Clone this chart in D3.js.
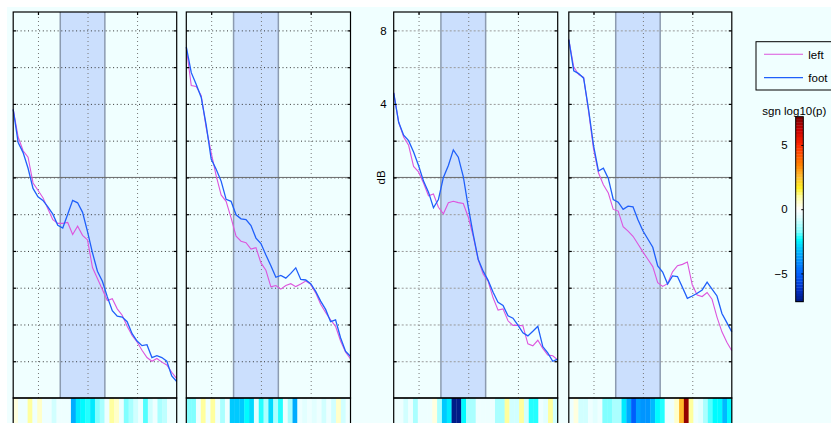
<!DOCTYPE html>
<html>
<head>
<meta charset="utf-8">
<script src="https://cdn.jsdelivr.net/npm/d3@7"></script>
<style>
  html, body { margin: 0; padding: 0; background: #ffffff; overflow: hidden; }
  text { font-family: "Liberation Sans", Arial, Helvetica, sans-serif; }
</style>
</head>
<body>
<svg id="fig" width="831" height="423"></svg>
<script>
// ---- data: level (dB) per band, one array per panel and series ----
const left1 = [3.7, 2.2, 1.45, 1.1, -0.3, -0.7, -1.1, -1.7, -2.3, -2.5, -2.5, -2.45, -3.1, -2.65, -3.15, -3.4, -4.9, -5.5, -6.1, -6.7, -6.6, -7.15, -7.5, -8.1, -8.6, -8.95, -9.4, -9.8, -10.0, -9.85, -10.05, -10.2, -10.6, -10.95];
const foot1 = [3.7, 1.9, 1.35, 0.5, -0.6, -1.05, -1.25, -1.6, -2.0, -2.6, -2.75, -2.0, -1.25, -1.38, -1.9, -2.95, -4.1, -5.1, -5.65, -6.5, -7.25, -7.55, -7.6, -7.85, -8.5, -8.9, -9.15, -9.1, -9.8, -9.7, -9.8, -10.0, -10.8, -11.1];
const left2 = [7.05, 5.0, 4.95, 4.45, 2.7, 1.35, 0.1, -0.95, -1.3, -2.2, -3.2, -3.47, -3.55, -3.9, -3.82, -4.65, -5.05, -5.95, -5.88, -6.08, -5.88, -5.78, -5.94, -5.8, -5.64, -5.82, -6.28, -6.9, -7.35, -7.75, -8.1, -8.9, -9.5, -9.88];
const foot2 = [7.1, 5.7, 5.05, 4.35, 2.85, 1.0, 0.45, -0.2, -1.19, -1.3, -2.03, -2.25, -2.3, -2.62, -3.3, -3.6, -4.22, -4.8, -5.43, -5.33, -5.48, -5.22, -4.92, -5.55, -5.58, -5.78, -6.2, -6.73, -7.18, -7.85, -7.75, -8.72, -9.45, -9.74];
const left3 = [4.6, 3.0, 2.2, 1.75, 0.6, 0.3, -0.3, -1.0, -0.9, -1.62, -1.98, -1.38, -1.3, -1.37, -1.42, -2.15, -3.2, -4.47, -5.26, -5.65, -6.55, -7.22, -7.15, -7.8, -8.05, -8.05, -8.07, -9.05, -9.16, -8.86, -9.3, -9.66, -9.7, -9.93];
const foot3 = [4.6, 3.0, 2.3, 2.0, 1.38, 0.65, -0.2, -0.8, -1.65, -1.2, 0.0, 0.65, 1.5, 1.1, 0.05, -1.6, -3.1, -4.45, -5.1, -5.6, -6.25, -6.8, -6.97, -7.53, -7.66, -8.04, -8.45, -8.62, -8.37, -8.1, -9.2, -9.55, -10.0, -9.88];
const left4 = [7.5, 6.0, 5.6, 5.45, 3.6, 1.55, 0.25, -0.4, -0.85, -1.74, -1.83, -2.68, -2.92, -3.2, -3.62, -4.05, -4.45, -4.85, -5.72, -5.93, -5.78, -5.14, -4.8, -4.73, -4.6, -5.85, -6.4, -6.48, -6.26, -6.63, -7.6, -8.4, -8.97, -9.43];
const foot4 = [7.5, 5.8, 5.65, 5.4, 3.7, 1.75, 0.35, 0.5, -0.05, -1.2, -1.35, -1.74, -1.56, -1.6, -2.3, -2.9, -3.35, -3.8, -4.82, -5.15, -5.8, -5.36, -5.39, -5.98, -6.58, -6.45, -6.3, -6.12, -5.7, -6.08, -6.45, -7.4, -7.9, -8.4];

// ---- signed log10(p) per band, shown as a colour strip under each panel ----
const sgnP1 = [0.3, -0.25, -0.25, 1.0, -0.25, 0.5, -0.25, -0.25, -0.7, -0.25, -0.25, -0.25, -3.4, -2.6, -2.4, -2.2, -2.5, -1.7, -1.3, -0.25, 1.0, 0.5, -0.25, -1.7, -1.3, -0.8, -0.25, -1.9, -0.8, -0.25, -1.3, -1.0, -0.25, -0.25];
const sgnP2 = [-1.7, -1.7, -0.25, 1.0, -0.25, 1.0, -0.25, -1.3, -0.25, -3.0, -3.1, -3.1, -2.3, -2.8, -0.6, -2.2, -1.3, -2.8, -1.3, -2.2, -0.25, -1.3, -3.4, -0.25, -0.6, -0.25, -0.6, -0.25, -0.8, -0.25, -0.8, 0.5, -0.8, -0.25];
const sgnP3 = [-0.25, -0.25, -0.8, -0.25, -1.3, -0.25, -0.25, -0.25, 0.4, -1.3, -3.0, -2.5, -7.0, -7.0, -2.3, -1.3, -1.3, -0.25, -0.25, -0.25, -0.25, -1.3, -1.3, 0.9, -0.8, -0.8, 0.9, -0.8, -2.2, -2.2, -0.25, -0.6, 0.9, -0.8];
const sgnP4 = [-0.4, 0.4, -0.8, -0.8, -0.25, -0.6, -0.25, -1.7, -1.7, -1.3, -1.3, -2.6, -3.4, -5.0, -3.7, -4.0, -4.0, -3.2, -2.3, -2.2, -0.25, -0.25, 0.5, 2.5, 6.8, 0.9, -0.25, -0.6, -1.3, -2.0, -2.3, -2.3, -3.2, -2.3];

// ---- axes ----
const yTicks = [-10, -8, -6, -4, -2, 0, 2, 4, 6, 8];
const yTickLabels = [8, 4];
const xGrid = [5, 15, 25];
const xTopTicks = [5, 25];
const highlight = [9.5, 18.5];
const seriesNames = ["left", "foot"];
const cbTicks = [-5, 0, 5];
const cbLimit = 7.2;
const cbLevels = 64;

// ---- layout ----
const bg = "#f0ffff";
const leftColor = "#dd55dd";
const footColor = "#1f5ffa";
const panelTop = 12, panelBottom = 398, stripBottom = 440;
const panelBoxes = [
  { x: 13.2, w: 163.5 },
  { x: 186.3, w: 164.2 },
  { x: 393.7, w: 164 },
  { x: 568.8, w: 163 }
];
const panelData = [
  { left: left1, foot: foot1, p: sgnP1, grid: "near" },
  { left: left2, foot: foot2, p: sgnP2, grid: "near" },
  { left: left3, foot: foot3, p: sgnP3, grid: "far", labels: true },
  { left: left4, foot: foot4, p: sgnP4, grid: "far" }
];

// diverging colour map (blue - white - red), stepped like an indexed palette
const cmapSmooth = d3.scaleLinear()
  .domain([-7.2, -6.2, -5.0, -3.4, -2.3, -1.7, -1.0, -0.6, 0, 0.5, 1.0, 1.7, 2.5, 3.5, 5.0, 6.2, 7.2])
  .range(["#001a80", "#0030c8", "#0060ff", "#00b0ff", "#00ffff", "#80ffff", "#c0ffff", "#e0ffff", "#ffffff",
          "#ffffd0", "#ffffa0", "#fff020", "#ffc030", "#ff8000", "#ff2800", "#c80000", "#780000"])
  .interpolate(d3.interpolateRgb)
  .clamp(true);
const levelStep = 2 * cbLimit / cbLevels;
const levelOf = v => Math.max(0, Math.min(cbLevels - 1, Math.floor((v + cbLimit) / levelStep)));
const cmap = v => cmapSmooth(-cbLimit + (levelOf(v) + 0.5) * levelStep);

const svg = d3.select("#fig");
svg.append("rect").attr("x", 7).attr("y", 7).attr("width", 831).attr("height", 423).attr("fill", bg);

const y = d3.scaleLinear().domain([-12, 9]).range([panelBottom, panelTop]);

panelBoxes.forEach((box, k) => {
  const d = panelData[k];
  const x = d3.scaleLinear().domain([0, 33]).range([box.x, box.x + box.w]);
  const cells = d3.scaleBand().domain(d3.range(d.p.length)).range([box.x, box.x + box.w]);
  const g = svg.append("g");

  g.append("rect").attr("x", box.x).attr("y", panelTop).attr("width", box.w)
    .attr("height", panelBottom - panelTop).attr("fill", bg);

  // highlighted band
  g.append("rect")
    .attr("x", x(highlight[0])).attr("y", panelTop)
    .attr("width", x(highlight[1]) - x(highlight[0])).attr("height", panelBottom - panelTop)
    .attr("fill", "#cbdffd");
  highlight.forEach(h => {
    g.append("line").attr("x1", x(h)).attr("x2", x(h)).attr("y1", panelTop).attr("y2", panelBottom)
      .attr("stroke", "#8c9bb0").attr("stroke-width", 1.5);
  });

  // dotted grid
  const hStyle = d.grid === "near" ? { c: "#333", dash: "1,2.7" } : { c: "#999", dash: "2,2" };
  const hGrid = g.append("g").attr("transform", `translate(${box.x},0)`)
    .call(d3.axisLeft(y).tickValues(yTicks).tickSize(-box.w).tickFormat(""));
  hGrid.select(".domain").remove();
  hGrid.selectAll("line").attr("stroke", hStyle.c).attr("stroke-dasharray", hStyle.dash);

  const vGrid = g.append("g").attr("transform", `translate(0,${panelBottom})`)
    .call(d3.axisBottom(x).tickValues(xGrid).tickSize(-(panelBottom - panelTop)).tickFormat(""));
  vGrid.select(".domain").remove();
  vGrid.selectAll("line").attr("stroke", "#777").attr("stroke-dasharray", "1,3");

  // 0 dB reference
  g.append("line").attr("x1", box.x).attr("x2", box.x + box.w).attr("y1", y(0)).attr("y2", y(0))
    .attr("stroke", "#6a6a6a").attr("stroke-width", 1);

  // spectra
  const line = d3.line().x((v, i) => x(i)).y(v => y(v));
  g.append("path").datum(d.left).attr("d", line).attr("fill", "none")
    .attr("stroke", leftColor).attr("stroke-width", 1.1);
  g.append("path").datum(d.foot).attr("d", line).attr("fill", "none")
    .attr("stroke", footColor).attr("stroke-width", 1.3);

  // significance strip
  g.selectAll("rect.cell").data(d.p).enter().append("rect").attr("class", "cell")
    .attr("x", (v, i) => cells(i)).attr("y", panelBottom)
    .attr("width", cells.bandwidth() + 0.3).attr("height", stripBottom - panelBottom)
    .attr("fill", v => cmap(v));

  // frame and ticks
  g.append("rect").attr("x", box.x).attr("y", panelTop).attr("width", box.w)
    .attr("height", panelBottom - panelTop).attr("fill", "none").attr("stroke", "#000").attr("stroke-width", 1.2);
  g.append("rect").attr("x", box.x).attr("y", panelBottom).attr("width", box.w)
    .attr("height", stripBottom - panelBottom).attr("fill", "none").attr("stroke", "#000").attr("stroke-width", 1.2);

  const tL = g.append("g").attr("transform", `translate(${box.x},0)`)
    .call(d3.axisLeft(y).tickValues(yTicks).tickSize(-3).tickFormat(""));
  const tR = g.append("g").attr("transform", `translate(${box.x + box.w},0)`)
    .call(d3.axisRight(y).tickValues(yTicks).tickSize(-3).tickFormat(""));
  const tT = g.append("g").attr("transform", `translate(0,${panelTop})`)
    .call(d3.axisTop(x).tickValues(xTopTicks).tickSize(-3).tickFormat(""));
  [tL, tR, tT].forEach(a => { a.select(".domain").remove(); a.selectAll("line").attr("stroke", "#000").attr("stroke-width", 1.2); });

  if (d.labels) {
    const lab = g.append("g").attr("transform", `translate(${box.x},0)`)
      .call(d3.axisLeft(y).tickValues(yTickLabels).tickSize(0).tickPadding(7).tickFormat(d3.format("d")));
    lab.select(".domain").remove();
    lab.selectAll("text").attr("font-size", 11.5).attr("fill", "#000")
      .attr("font-family", "'Liberation Sans', Arial, sans-serif");
    g.append("text").attr("transform", `translate(${box.x - 8.5},${y(0)}) rotate(-90)`)
      .attr("text-anchor", "middle").attr("font-size", 11.5).attr("fill", "#000").text("dB");
  }
});

// legend
const legend = svg.append("g");
legend.append("rect").attr("x", 756).attr("y", 41.7).attr("width", 120).attr("height", 48.3)
  .attr("fill", bg).attr("stroke", "#000").attr("stroke-width", 1);
[leftColor, footColor].forEach((c, i) => {
  const yy = 54.3 + i * 23.4;
  legend.append("line").attr("x1", 764).attr("x2", 803).attr("y1", yy).attr("y2", yy)
    .attr("stroke", c).attr("stroke-width", i ? 1.3 : 1.1);
  legend.append("text").attr("x", 808.3).attr("y", yy + 4.2).attr("font-size", 11.5)
    .attr("fill", "#000").text(seriesNames[i]);
});

// colour bar
const cbX = 795.7, cbW = 7.6;
const cbY = d3.scaleLinear().domain([-cbLimit, cbLimit]).range([301.7, 116.7]);
const cb = svg.append("g");
cb.selectAll("rect.lvl").data(d3.range(cbLevels)).enter().append("rect").attr("class", "lvl")
  .attr("x", cbX).attr("width", cbW)
  .attr("y", l => cbY(-cbLimit + (l + 1) * levelStep))
  .attr("height", l => cbY(-cbLimit + l * levelStep) - cbY(-cbLimit + (l + 1) * levelStep) + 0.3)
  .attr("fill", l => cmapSmooth(-cbLimit + (l + 0.5) * levelStep));
cb.append("rect").attr("x", cbX).attr("y", 116.7).attr("width", cbW).attr("height", 185)
  .attr("fill", "none").attr("stroke", "#000").attr("stroke-width", 1);
const cbAxis = cb.append("g").attr("transform", `translate(${cbX},0)`)
  .call(d3.axisLeft(cbY).tickValues(cbTicks).tickSize(0).tickPadding(8));
cbAxis.select(".domain").remove();
cbAxis.selectAll("text").attr("font-size", 11.5).attr("fill", "#000")
  .attr("font-family", "'Liberation Sans', Arial, sans-serif");
const cbR = cb.append("g").attr("transform", `translate(${cbX + cbW},0)`)
  .call(d3.axisRight(cbY).tickValues(cbTicks).tickSize(-2).tickFormat(""));
cbR.select(".domain").remove();
cbR.selectAll("line").attr("stroke", "#000");
cb.append("text").attr("x", 762.3).attr("y", 114.5).attr("font-size", 11.5).attr("fill", "#000")
  .text("sgn log10(p)");
</script>
</body>
</html>
